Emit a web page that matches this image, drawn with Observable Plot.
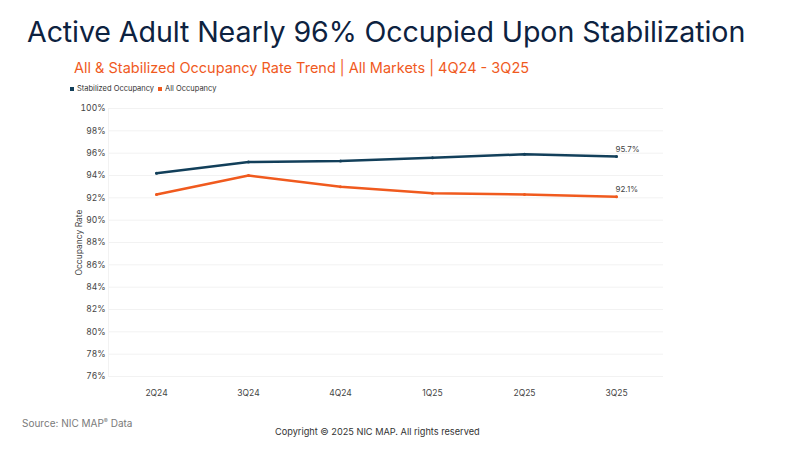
<!DOCTYPE html>
<html><head><meta charset="utf-8">
<script src="https://cdn.jsdelivr.net/npm/d3@7"></script>
<script src="https://cdn.jsdelivr.net/npm/@observablehq/plot@0.6"></script>
<style>
body{margin:0;background:#fff;font-family:Inter,"Noto Sans",sans-serif;}
#wrap{position:relative;width:792px;height:455px;overflow:hidden;}
#title{position:absolute;left:27px;top:14px;font-size:28.6px;color:#0d2240;white-space:nowrap;letter-spacing:-0.1px;}
#sub{position:absolute;left:74px;top:59px;font-size:14.5px;color:#f05a1e;white-space:nowrap;}
#legend{position:absolute;left:70px;top:84px;font-size:7.5px;color:#333;white-space:nowrap;display:flex;align-items:center;}
#legend span.sw{display:inline-block;width:4px;height:4px;margin-right:3px;}
#legend span.it{display:inline-flex;align-items:center;margin-right:4px;}
#chart{position:absolute;left:0;top:95px;}
#source{position:absolute;left:22px;top:417px;font-size:10px;color:#7a7a7a;white-space:nowrap;}
#copy{position:absolute;left:275px;top:426px;font-size:9.2px;color:#333;white-space:nowrap;}
</style></head>
<body><div id="wrap">
<div id="title">Active Adult Nearly 96% Occupied Upon Stabilization</div>
<div id="sub">All &amp; Stabilized Occupancy Rate Trend | All Markets | 4Q24 - 3Q25</div>
<div id="legend"></div>
<div id="chart"></div>
<div id="source">Source: NIC MAP<sup style="font-size:6px">®</sup> Data</div>
<div id="copy">Copyright © 2025 NIC MAP. All rights reserved</div>
</div>
<script>
const quarters = ["2Q24","3Q24","4Q24","1Q25","2Q25","3Q25"];
const stabilized = [94.2,95.2,95.3,95.6,95.9,95.7];
const allOccupancy = [92.3,94.0,93.0,92.4,92.3,92.1];
const seriesNames = ["Stabilized Occupancy","All Occupancy"];
const seriesColors = ["#123f5a","#f05a1e"];
const yTicks = [76,78,80,82,84,86,88,90,92,94,96,98,100];

const data = [];
quarters.forEach((q,i)=>{
  data.push({q, s:seriesNames[0], v:stabilized[i]});
  data.push({q, s:seriesNames[1], v:allOccupancy[i]});
});
const last = data.filter(d=>d.q===quarters[quarters.length-1]);

const leg = document.getElementById("legend");
seriesNames.forEach((n,i)=>{
  const it=document.createElement("span");it.className="it";
  it.innerHTML=`<span class="sw" style="background:${seriesColors[i]}"></span>${n}`;
  leg.appendChild(it);
});

const chart = Plot.plot({
  width:792, height:310,
  marginLeft:108, marginRight:129, marginTop:13, marginBottom:29,
  style:{fontFamily:"Inter, sans-serif", fontSize:"8.5px", color:"#444"},
  x:{type:"point", domain:quarters, padding:0.5},
  y:{domain:[76,100]},
  color:{domain:seriesNames, range:seriesColors},
  marks:[
    Plot.gridY(yTicks,{stroke:"#f2f2f2", strokeOpacity:1}),
    Plot.frame({anchor:"left", stroke:"#f2f2f2"}),
    Plot.axisY(yTicks,{tickSize:0, tickPadding:3, tickFormat:d=>d+"%", label:"Occupancy Rate", labelAnchor:"center", labelArrow:"none", labelOffset:33, fill:"#444"}),
    Plot.axisX({tickSize:0, tickPadding:13, label:null, fill:"#444"}),
    Plot.line(data,{x:"q", y:"v", stroke:"s", strokeWidth:2.5}),
    Plot.dot(data,{x:"q", y:"v", fill:"s", r:1.5}),
    Plot.text(last,{x:"q", y:"v", text:d=>d.v.toFixed(1)+"%", textAnchor:"start", dx:-1, dy:-7, fill:"#444", fontSize:8})
  ]
});
document.getElementById("chart").appendChild(chart);
</script>
</body></html>
